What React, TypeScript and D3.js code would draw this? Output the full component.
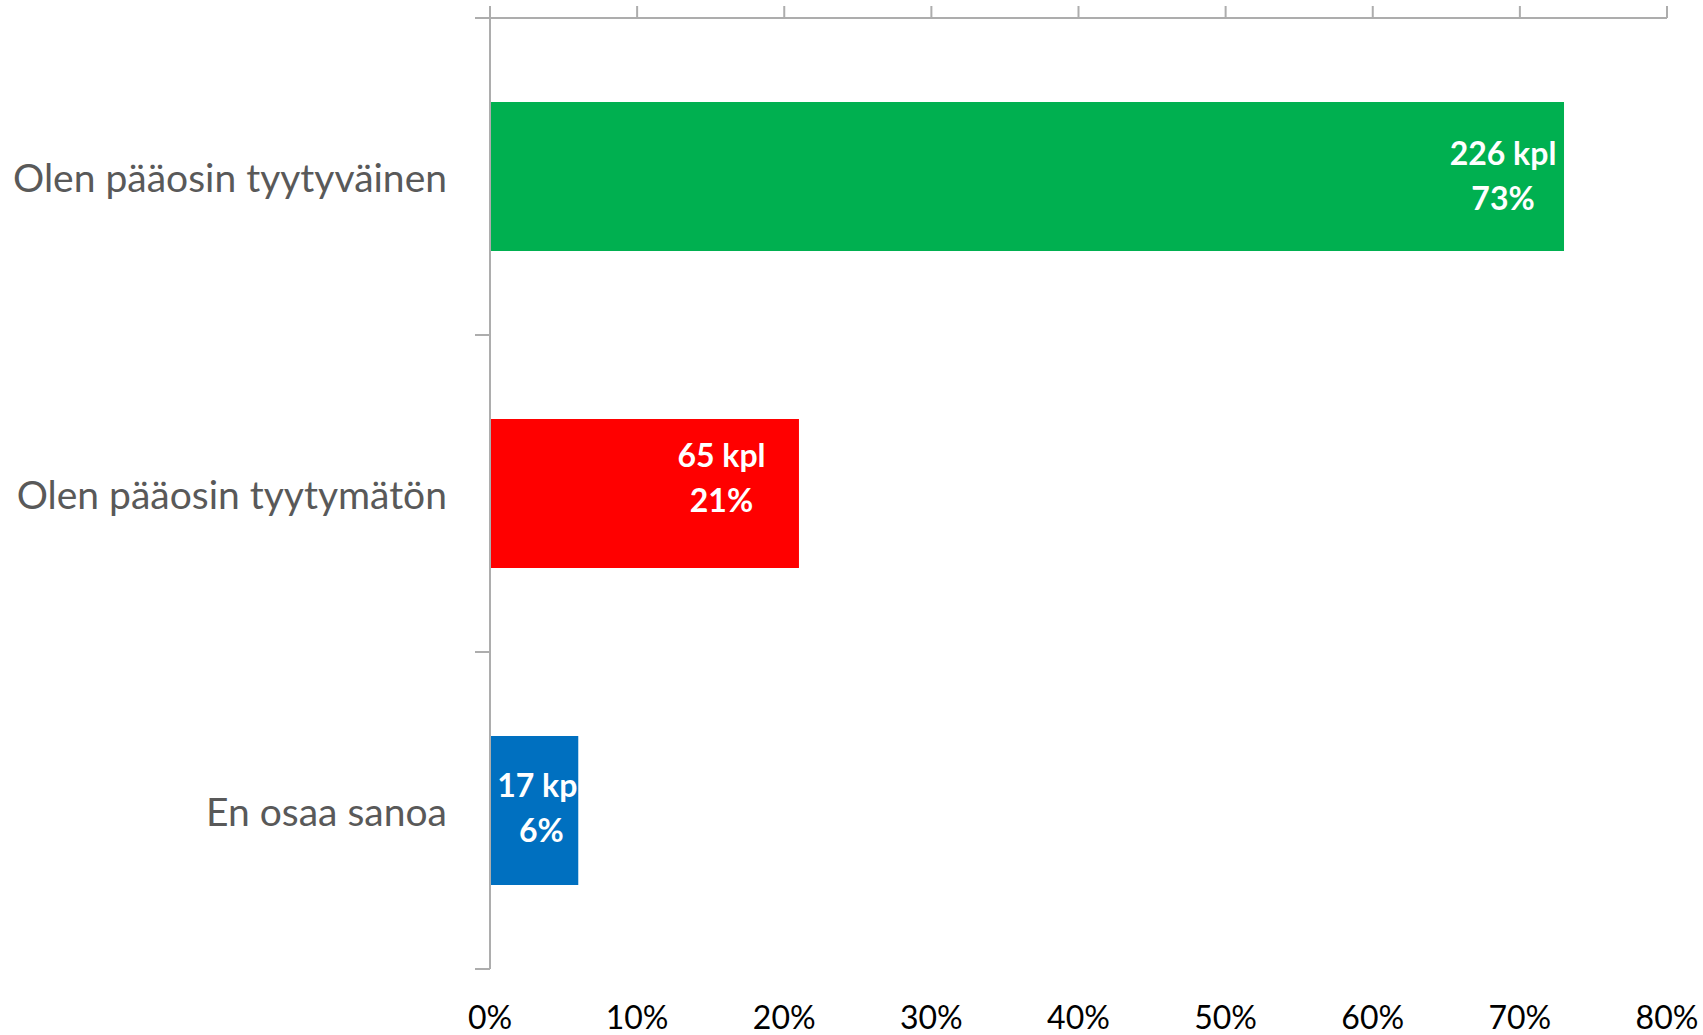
import React from "react";
import * as d3 from "d3";

const categories = ["Olen pääosin tyytyväinen", "Olen pääosin tyytymätön", "En osaa sanoa"];
const shares = [0.73, 0.21, 0.06];
const counts = [226, 65, 17];
const colors = ["#00B050", "#FF0000", "#0070C0"];
const ticks = [0, 0.1, 0.2, 0.3, 0.4, 0.5, 0.6, 0.7, 0.8];

// label placement tweaks (layout, not data)
const labelDx = [-61, -77.5, -37];
const labelDy = [0, -14.5, -2];

const W = 1703;
const H = 1035;
const left = 490;
const right = 1667;
const top = 18;
const bottom = 969;

export default function App() {
  const x = d3.scaleLinear().domain([0, 0.8]).range([left, right]);
  const y = d3.scaleBand<string>().domain(categories).range([top, bottom]).padding(0);
  const step = y.step();
  const barH = step * 0.47;
  const axisColor = "#ADADAD";
  const font = "Lato, 'Noto Sans', sans-serif";

  const bandEdges = [...categories.map((c) => y(c) as number), bottom];

  return (
    <svg width={W} height={H} style={{ position: "absolute", left: 0, top: 0, background: "#fff" }}>
      {/* bars */}
      {categories.map((c, i) => {
        const y0 = (y(c) as number) + (step - barH) / 2;
        return (
          <rect key={c} x={x(0)} y={y0} width={x(shares[i]) - x(0)} height={barH} fill={colors[i]} />
        );
      })}
      {/* top axis line */}
      <line x1={left - 15} x2={right} y1={top} y2={top} stroke={axisColor} strokeWidth={2} />
      {ticks.map((t) => (
        <line key={t} x1={x(t)} x2={x(t)} y1={top - 12} y2={top} stroke={axisColor} strokeWidth={2} />
      ))}
      {/* vertical axis */}
      <line x1={left} x2={left} y1={top} y2={bottom} stroke={axisColor} strokeWidth={2} />
      {bandEdges.map((e, i) => (
        <line key={i} x1={left - 15} x2={left} y1={e} y2={e} stroke={axisColor} strokeWidth={2} />
      ))}
      {/* category labels */}
      {categories.map((c) => (
        <text
          key={c}
          x={447}
          y={(y(c) as number) + step / 2 + 15}
          textAnchor="end"
          fontFamily={font}
          fontSize={39}
          fill="#595959"
        >
          {c}
        </text>
      ))}
      {/* tick labels */}
      {ticks.map((t) => (
        <text key={t} x={x(t)} y={1029} textAnchor="middle" fontFamily={font} fontSize={32} fill="#000">
          {d3.format(".0%")(t)}
        </text>
      ))}
      {/* data labels */}
      {categories.map((c, i) => {
        const cx = x(shares[i]) + labelDx[i];
        const cy = (y(c) as number) + step / 2 + labelDy[i];
        return (
          <g key={c} fontFamily={font} fontWeight={700} fontSize={32} fill="#fff" textAnchor="middle">
            <text x={cx} y={cy - 12}>{`${counts[i]} kpl`}</text>
            <text x={cx} y={cy + 33}>{d3.format(".0%")(shares[i])}</text>
          </g>
        );
      })}
    </svg>
  );
}
